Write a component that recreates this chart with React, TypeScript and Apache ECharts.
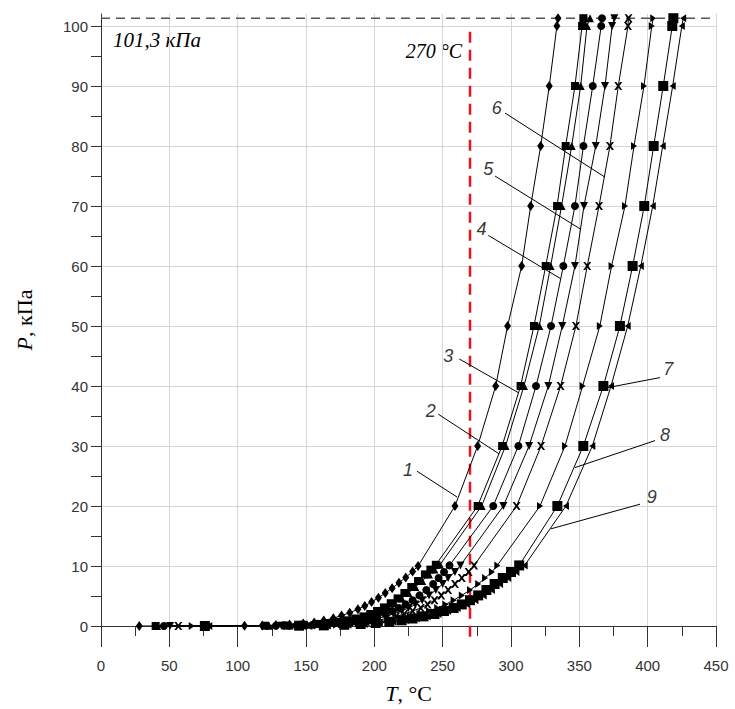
import React, { useEffect, useRef } from 'react';
import * as echarts from 'echarts';

// Temperature (°C) and pressure (kPa) for each of the 9 curves
const t1 = [28, 105, 118, 128, 138, 148, 156, 163, 170, 176, 182, 188, 193, 198, 203, 208, 213, 218, 223, 228, 232, 259, 275.6, 288.8, 297.5, 307.8, 314.4, 321.7, 328, 333.6, 334.4];
const p1 = [0, 0.05, 0.1, 0.15, 0.25, 0.4, 0.6, 0.9, 1.3, 1.75, 2.2, 2.8, 3.35, 4.0, 4.7, 5.5, 6.3, 7.2, 8.1, 9.1, 10, 20, 30, 40, 50, 60, 70, 80, 90, 100, 101.3];

const t2 = [40, 120, 135, 148, 158, 166, 173, 180, 186, 192, 197, 202, 207, 212, 217, 222, 227, 232, 237, 241, 245, 275.6, 293.5, 307, 316.8, 325.4, 333.7, 340, 346.8, 352, 353];
const p2 = [0, 0.05, 0.1, 0.2, 0.35, 0.5, 0.7, 0.95, 1.25, 1.6, 2.0, 2.5, 3.1, 3.8, 4.6, 5.5, 6.5, 7.5, 8.6, 9.4, 10.2, 20, 30, 40, 50, 60, 70, 80, 90, 100, 101.3];

const t3 = [41, 123, 138, 151, 161, 169, 176, 183, 189, 195, 200, 205, 210, 215, 220, 225, 230, 235, 240, 244, 248, 278.5, 296, 309.5, 320.7, 329, 337, 344.4, 351, 355.6, 357.8];
const p3 = [0, 0.05, 0.1, 0.2, 0.35, 0.5, 0.7, 0.95, 1.25, 1.6, 2.0, 2.5, 3.1, 3.8, 4.6, 5.5, 6.5, 7.5, 8.6, 9.4, 10.2, 20, 30, 40, 50, 60, 70, 80, 90, 100, 101.3];

const t4 = [46, 128, 143, 155, 165, 174, 182, 189, 196, 202, 208, 213, 218, 223, 228, 233, 238, 243, 247, 251, 255, 287, 305.4, 318.3, 329.3, 338.3, 346.8, 353, 359.8, 366, 366.6];
const p4 = [0, 0.05, 0.1, 0.2, 0.33, 0.5, 0.7, 0.95, 1.25, 1.6, 2.0, 2.5, 3.0, 3.6, 4.3, 5.1, 6.0, 7.0, 8.0, 9.0, 10.1, 20, 30, 40, 50, 60, 70, 80, 90, 100, 101.3];

const t5 = [50.5, 132, 148, 160, 170, 179, 187, 195, 202, 208, 214, 220, 225, 230, 235, 240, 245, 250, 254, 259, 263, 294.4, 313.2, 327.3, 337.5, 346.8, 353.4, 362, 368.8, 374, 375.6];
const p5 = [0, 0.05, 0.1, 0.2, 0.33, 0.5, 0.7, 0.95, 1.25, 1.6, 2.0, 2.5, 3.0, 3.6, 4.3, 5.1, 6.0, 7.0, 8.0, 9.0, 10.1, 20, 30, 40, 50, 60, 70, 80, 90, 100, 101.3];

const t6 = [56.6, 136, 152, 165, 176, 185, 194, 202, 209, 216, 222, 228, 234, 239, 244, 249, 254, 259, 264, 269, 273, 304.1, 322, 336.3, 347.5, 355.8, 364.4, 372.4, 378.5, 385.6, 386];
const p6 = [0, 0.05, 0.1, 0.2, 0.33, 0.5, 0.7, 0.95, 1.25, 1.6, 2.0, 2.5, 3.0, 3.6, 4.3, 5.1, 6.0, 7.0, 8.0, 9.0, 10.1, 20, 30, 40, 50, 60, 70, 80, 90, 100, 101.3];

const t7 = [66.4, 140, 158, 172, 184, 194, 203, 211, 219, 226, 233, 240, 246, 252, 258, 264, 270, 276, 281, 286, 290, 321.2, 339.5, 352.4, 365, 373.6, 383.4, 390, 397.3, 403, 404.1];
const p7 = [0, 0.05, 0.1, 0.2, 0.33, 0.5, 0.7, 0.95, 1.25, 1.6, 2.0, 2.5, 3.0, 3.6, 4.3, 5.1, 6.0, 7.0, 8.0, 9.0, 10.1, 20, 30, 40, 50, 60, 70, 80, 90, 100, 101.3];

const t8 = [76, 145, 163, 178, 190, 201, 211, 220, 228, 236, 244, 251, 258, 264, 270, 276, 282, 288, 294, 300, 306, 333.9, 352.9, 367.6, 379.7, 389, 397.5, 404.4, 411.4, 418, 418.8];
const p8 = [0, 0.05, 0.1, 0.2, 0.33, 0.5, 0.7, 0.95, 1.25, 1.6, 2.0, 2.5, 3.0, 3.6, 4.3, 5.1, 6.0, 7.0, 8.0, 9.0, 10.1, 20, 30, 40, 50, 60, 70, 80, 90, 100, 101.3];

const t9 = [79.2, 148, 166, 181, 193, 204, 214, 223, 231, 239, 247, 254, 261, 268, 274, 280, 286, 292, 298, 304, 310, 340.2, 359.5, 373.2, 385.4, 395, 403.7, 411, 418.3, 425, 426];
const p9 = [0, 0.05, 0.1, 0.2, 0.33, 0.5, 0.7, 0.95, 1.25, 1.6, 2.0, 2.5, 3.0, 3.6, 4.3, 5.1, 6.0, 7.0, 8.0, 9.0, 10.1, 20, 30, 40, 50, 60, 70, 80, 90, 100, 101.3];

// Curve annotations (numbers with leader lines), in data units
const labelNames = ['1', '2', '3', '4', '5', '6', '7', '8', '9'];
const labelT = [224.6, 241.2, 254.1, 278.5, 283.4, 289.5, 415.1, 412.7, 402.9];
const labelP = [26, 35.9, 45, 66.2, 76.2, 86.4, 42.8, 31.9, 21.5];
const leadStartT = [231.2, 246.8, 262.2, 283.4, 288.3, 295.6, 409, 405.4, 394.4];
const leadStartP = [25.8, 35.3, 44.5, 65.1, 75, 85.5, 41.4, 30.9, 20.3];
const leadEndT = [260.5, 291.2, 305.3, 336.3, 350.5, 368.8, 370, 346.8, 329.3];
const leadEndP = [21.5, 28.7, 38.9, 57.9, 66.2, 74.8, 39.7, 26.4, 16.2];

// Reference lines
const atmP = 101.3;
const limitT = 270;
const limitPRange = [-1.8, 100];

const X_MIN = 0, X_MAX = 450, X_STEP = 50;
const Y_MIN = 0, Y_MAX = 102, Y_STEP = 5;

const DOWN = 'path://M0,0 L10,0 L5,10 Z';
const RIGHT = 'path://M0,0 L10,5 L0,10 Z';
const LEFT = 'path://M10,0 L0,5 L10,10 Z';
const CROSS = 'path://M0,0 L2.5,0 L5,3 L7.5,0 L10,0 L6.5,5 L10,10 L7.5,10 L5,7 L2.5,10 L0,10 L3.5,5 Z';

export default function App() {
  const ref = useRef<HTMLDivElement>(null);
  useEffect(() => {
    if (!ref.current) return;
    const chart = echarts.init(ref.current, undefined, { renderer: 'svg' });
    const curves = [[t1, p1], [t2, p2], [t3, p3], [t4, p4], [t5, p5], [t6, p6], [t7, p7], [t8, p8], [t9, p9]];
    const symbols = ['diamond', 'rect', 'triangle', 'circle', DOWN, CROSS, RIGHT, 'rect', LEFT];
    const sizes: any[] = [[7, 10], [8, 8], [8, 8], [8, 8], [8, 8], [8, 8], [6, 8], [10, 10], [6, 8]];

    const curveSeries = curves.map(([t, p], i) => ({
      type: 'line',
      name: 'c' + (i + 1),
      data: t.map((x, j) => [x, p[j]]),
      symbol: symbols[i],
      symbolSize: sizes[i],
      showAllSymbol: true,
      smooth: false,
      itemStyle: { color: '#000' },
      lineStyle: { color: '#000', width: 1 },
      z: 4,
      silent: true,
    }));

    const lineFont = 'Liberation Sans';
    const serif = 'Liberation Serif';

    const option: any = {
      animation: false,
      backgroundColor: '#fff',
      grid: { left: 101, right: 19, top: 14, bottom: 79, containLabel: false },
      xAxis: {
        type: 'value', min: X_MIN, max: X_MAX, interval: X_STEP,
        name: '{i|T}{n|, °C}', nameLocation: 'middle', nameGap: 56,
        nameTextStyle: {
          color: '#000',
          rich: {
            i: { fontFamily: serif, fontStyle: 'italic', fontSize: 22, color: '#000' },
            n: { fontFamily: serif, fontSize: 22, color: '#000' },
          },
        },
        axisLine: { show: true, onZero: false, lineStyle: { color: '#333', width: 1 } },
        axisTick: { show: true, length: 21, lineStyle: { color: '#333', width: 1 } },
        minorTick: { show: true, splitNumber: 2, length: 10, lineStyle: { color: '#333', width: 1 } },
        axisLabel: { margin: 32, fontSize: 15, color: '#333', fontFamily: lineFont },
        splitLine: { show: true, lineStyle: { color: '#d6d6d6', width: 1 } },
      },
      yAxis: {
        type: 'value', min: Y_MIN, max: Y_MAX, interval: Y_STEP,
        name: '{i|P}{n|, кПа}', nameLocation: 'middle', nameGap: 66, nameRotate: 90,
        nameTextStyle: {
          color: '#000',
          rich: {
            i: { fontFamily: serif, fontStyle: 'italic', fontSize: 22, color: '#000' },
            n: { fontFamily: serif, fontSize: 22, color: '#000' },
          },
        },
        axisLine: { show: true, onZero: false, lineStyle: { color: '#333', width: 1 } },
        axisTick: { show: true, length: 10, lineStyle: { color: '#333', width: 1 } },
        axisLabel: {
          margin: 13, fontSize: 15, color: '#333', fontFamily: lineFont,
          showMaxLabel: false,
          formatter: (v: number) => (v % 10 === 0 && v <= 100 ? String(v) : ''),
        },
        splitLine: { show: true, showMaxLine: false, lineStyle: { color: ['#d6d6d6', 'transparent'], width: 1 } },
      },
      graphic: [
        { type: 'text', left: 113, top: 29, style: { text: '101,3 кПа', font: 'italic 21px "Liberation Serif"', fill: '#000' } },
        { type: 'text', right: 273, top: 41, style: { text: '270 °C', font: 'italic 20px "Liberation Serif"', fill: '#000' } },
      ],
      series: [
        {
          type: 'line', name: 'atm', data: [[X_MIN, atmP], [X_MAX, atmP]], symbol: 'none', silent: true,
          lineStyle: { color: '#555', width: 1.5, type: [9, 6] }, z: 2,
        },
        {
          type: 'line', name: 'limit', data: [[limitT, limitPRange[0]], [limitT, limitPRange[1]]], symbol: 'none',
          clip: false, silent: true,
          lineStyle: { color: '#e8141c', width: 2.5, type: [11, 7] }, z: 3,
        },
        ...curveSeries,
        {
          type: 'lines', coordinateSystem: 'cartesian2d', silent: true,
          data: labelNames.map((_, i) => ({ coords: [[leadStartT[i], leadStartP[i]], [leadEndT[i], leadEndP[i]]] })),
          lineStyle: { color: '#000', width: 1, opacity: 1 }, z: 5,
        },
        {
          type: 'scatter', silent: true,
          data: labelNames.map((n, i) => [labelT[i], labelP[i], n]),
          symbolSize: 1, itemStyle: { color: 'transparent' },
          label: {
            show: true, position: 'inside', formatter: (p: any) => p.value[2],
            fontSize: 18, fontStyle: 'italic', fontFamily: lineFont, color: '#000',
          },
          z: 6,
        },
      ],
    };
    chart.setOption(option);
    return () => chart.dispose();
  }, []);
  return <div ref={ref} style={{ position: 'absolute', left: 0, top: 0, width: 735, height: 709, background: '#fff' }} />;
}
